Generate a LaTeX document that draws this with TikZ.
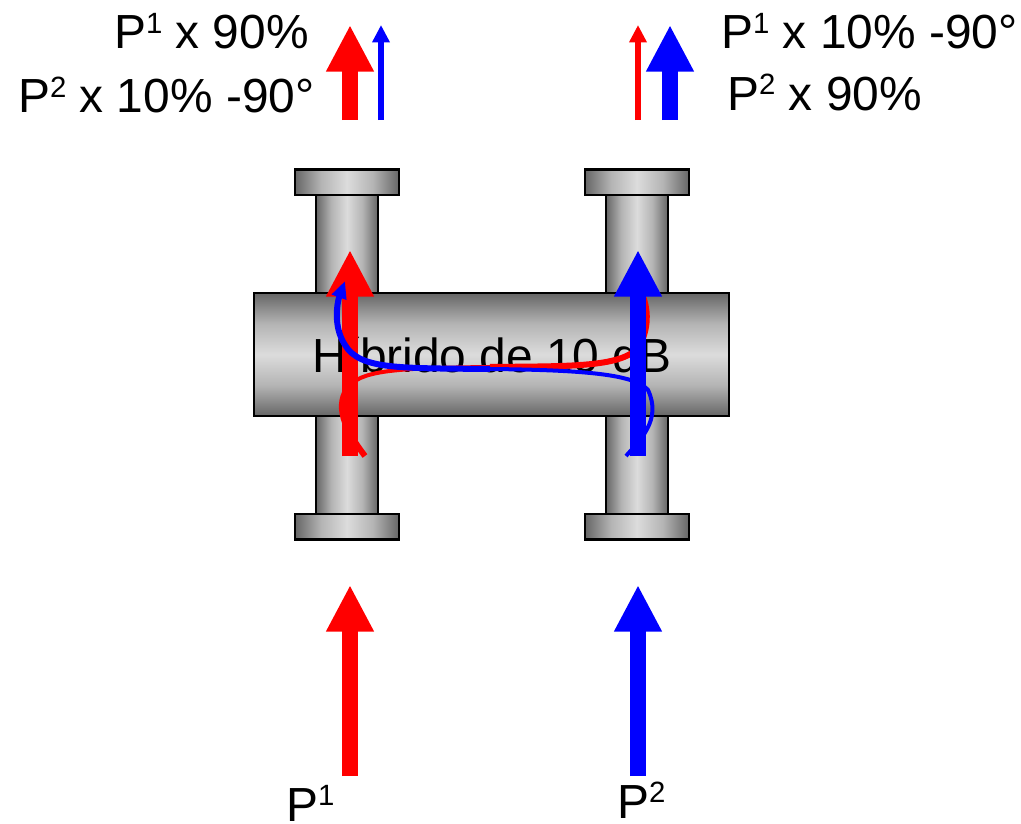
\documentclass[tikz,border=0pt]{standalone}
\usepackage{fontspec}
\setmainfont{Liberation Sans}
\usetikzlibrary{arrows.meta, positioning}
\definecolor{PipeDark}{HTML}{666666}
\definecolor{PipeMid}{HTML}{B4B4B4}
\definecolor{PipeLight}{HTML}{DCDCDC}
\definecolor{FlowRed}{HTML}{FF0000}
\definecolor{FlowBlue}{HTML}{0000FF}
\pgfdeclareverticalshading{bodyshade}{100bp}{color(0bp)=(PipeDark); color(25bp)=(PipeDark); color(37.5bp)=(PipeMid); color(50bp)=(PipeLight); color(62.5bp)=(PipeMid); color(75bp)=(PipeDark); color(100bp)=(PipeDark)}
\pgfdeclarehorizontalshading{pipeshade}{100bp}{color(0bp)=(PipeDark); color(25bp)=(PipeDark); color(37.5bp)=(PipeMid); color(50bp)=(PipeLight); color(62.5bp)=(PipeMid); color(75bp)=(PipeDark); color(100bp)=(PipeDark)}
\newcommand{\powersup}[1]{\raisebox{11.5pt}{\fontsize{22}{24}\selectfont #1}}
\begin{document}
\begin{tikzpicture}[x=0.75pt,y=-0.75pt,font=\fontsize{35.9}{42}\selectfont,hybridbody/.style={draw=black,line width=2pt,inner sep=0pt,outer sep=0pt,minimum width=356.25pt,minimum height=92.25pt,shade,shading=bodyshade},pipebox/.style={draw=black,line width=2pt,inner sep=0pt,outer sep=0pt,minimum width=46.5pt,minimum height=76.5pt,shade,shading=pipeshade},flangebox/.style={draw=black,line width=2pt,inner sep=0pt,outer sep=0pt,minimum width=78pt,minimum height=19pt,shade,shading=pipeshade},bigarrow/.style={-{Triangle[length=35pt,width=33.5pt]},line width=12pt},thinarrow/.style={-{Triangle[length=13pt,width=12.5pt]},line width=4.5pt},thickflow/.style={line width=4.5pt},thinflow/.style={line width=3pt},labeltext/.style={anchor=base west,inner sep=0pt}]
\useasboundingbox (0,0) rectangle (1021,824);
\node[hybridbody] (body) at (491.5,354.5) {};
\node[pipebox, above=0pt of body.north, xshift=-108.4pt] (pipeTL) {};
\node[pipebox, above=0pt of body.north, xshift=109.1pt] (pipeTR) {};
\node[pipebox, below=0pt of body.south, xshift=-108.4pt] (pipeBL) {};
\node[pipebox, below=0pt of body.south, xshift=109.1pt] (pipeBR) {};
\node[flangebox, above=-3pt of pipeTL] (flangeTL) {};
\node[flangebox, above=-3pt of pipeTR] (flangeTR) {};
\node[flangebox, below=-3pt of pipeBL] (flangeBL) {};
\node[flangebox, below=-3pt of pipeBR] (flangeBR) {};
\node[labeltext] (hybridlabel) at (312,372) {Híbrido de 10 dB};
\node[labeltext] (outAone) at (114,49) {P\powersup{1} x 90\%};
\node[labeltext] (outAtwo) at (18,113) {P\powersup{2} x 10\% -90°};
\node[labeltext] (outBone) at (721,49) {P\powersup{1} x 10\% -90°};
\node[labeltext] (outBtwo) at (727,110) {P\powersup{2} x 90\%};
\node[labeltext] (inone) at (286,821) {P\powersup{1}};
\node[labeltext] (intwo) at (617,818) {P\powersup{2}};
% arrow ends
\coordinate (inAstart) at (350,776);
\coordinate (inAend) at (350,585);
\coordinate (inBstart) at (638,776);
\coordinate (inBend) at (638,585);
\coordinate (midAstart) at (350,456);
\coordinate (midAend) at (350,250);
\coordinate (midBstart) at (638,456);
\coordinate (midBend) at (638,250);
\coordinate (topAstart) at (350,120);
\coordinate (topAend) at (350,25);
\coordinate (topAthinstart) at (381,120);
\coordinate (topAthinend) at (381,25);
\coordinate (topBthinstart) at (638,120);
\coordinate (topBthinend) at (638,25);
\coordinate (topBstart) at (670,120);
\coordinate (topBend) at (670,25);
\draw[bigarrow,FlowRed] (inAstart) -- (inAend);
\draw[bigarrow,FlowBlue] (inBstart) -- (inBend);
\draw[bigarrow,FlowRed] (topAstart) -- (topAend);
\draw[thinarrow,FlowBlue] (topAthinstart) -- (topAthinend);
\draw[thinarrow,FlowRed] (topBthinstart) -- (topBthinend);
\draw[bigarrow,FlowBlue] (topBstart) -- (topBend);
% coupled paths inside the hybrid
\coordinate (redstart) at (365,456);
\coordinate (redbend) at (350,385);
\coordinate (redmid) at (490,367);
\coordinate (redend) at (640,290);
\coordinate (bluestart) at (626,456);
\coordinate (bluemid) at (490,369);
\coordinate (blueend) at (345,281);
\draw[thickflow,FlowRed] (redstart) .. controls (345,430) and (333,405) .. (redbend);
\draw[thinflow,FlowRed] (redbend) .. controls (365,370) and (400,368) .. (redmid);
\draw[thickflow,FlowRed] (redmid) .. controls (570,366) and (625,368) .. (640,345) .. controls (650,325) and (648,305) .. (redend);
\draw[bigarrow,FlowBlue] (midBstart) -- (midBend);
\draw[bigarrow,FlowRed] (midAstart) -- (midAend);
\draw[thinflow,FlowBlue] (bluestart) .. controls (640,440) and (662,420) .. (648,390) .. controls (635,375) and (590,370) .. (bluemid);
\draw[thickflow,FlowBlue,-{Triangle[length=13pt,width=11pt]}] (bluemid) .. controls (400,368) and (360,370) .. (345,345) .. controls (332,325) and (338,300) .. (blueend);
\end{tikzpicture}
\end{document}
